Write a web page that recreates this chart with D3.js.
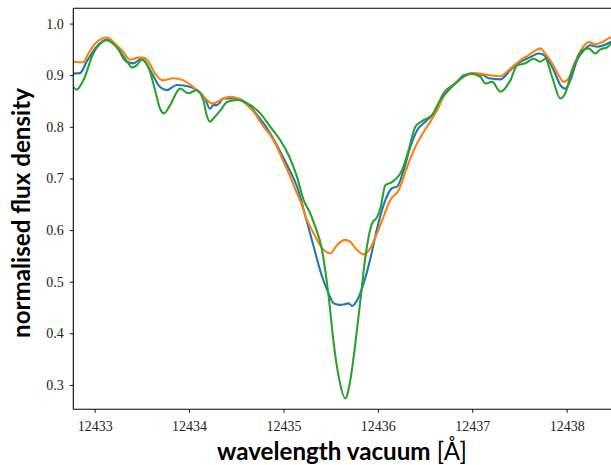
<!DOCTYPE html>
<html>
<head>
<meta charset="utf-8">
<script src="https://cdn.jsdelivr.net/npm/d3@7"></script>
<style>
  html, body { margin: 0; padding: 0; background: #fff; }
  svg { display: block; }
</style>
</head>
<body>
<svg id="chart" width="611" height="465"></svg>
<script>
// ---- data (wavelength in Å, normalised flux) ----
const xTicks = [12433, 12434, 12435, 12436, 12437, 12438];
const yTicks = [0.3, 0.4, 0.5, 0.6, 0.7, 0.8, 0.9, 1.0];
const xLabelBold = "wavelength vacuum";
const xLabelUnit = " [Å]";
const yLabel = "normalised flux density";

const blueSeries = [
  [12432.774,0.903],[12432.845,0.904],[12432.915,0.926],[12433.021,0.955],[12433.127,0.969],
  [12433.233,0.955],[12433.339,0.926],[12433.410,0.923],[12433.498,0.932],[12433.587,0.910],
  [12433.693,0.877],[12433.763,0.871],[12433.869,0.881],[12433.975,0.879],[12434.081,0.871],
  [12434.169,0.855],[12434.222,0.835],[12434.257,0.842],[12434.297,0.842],[12434.367,0.855],
  [12434.508,0.855],[12434.614,0.845],[12434.720,0.823],[12434.826,0.797],[12434.932,0.764],
  [12435.038,0.726],[12435.144,0.684],[12435.250,0.615],[12435.320,0.568],[12435.409,0.510],
  [12435.479,0.477],[12435.532,0.458],[12435.603,0.455],[12435.691,0.458],[12435.727,0.453],
  [12435.780,0.464],[12435.850,0.497],[12435.921,0.545],[12435.992,0.603],[12436.079,0.658],
  [12436.150,0.681],[12436.203,0.684],[12436.273,0.716],[12436.344,0.761],[12436.415,0.793],
  [12436.503,0.810],[12436.591,0.826],[12436.697,0.865],[12436.839,0.887],[12436.909,0.900],
  [12437.015,0.903],[12437.121,0.900],[12437.174,0.894],[12437.298,0.892],[12437.404,0.910],
  [12437.510,0.926],[12437.616,0.935],[12437.703,0.942],[12437.739,0.941],[12437.792,0.932],
  [12437.862,0.910],[12437.933,0.881],[12437.986,0.874],[12438.039,0.890],[12438.110,0.929],
  [12438.180,0.948],[12438.251,0.958],[12438.322,0.955],[12438.393,0.958],[12438.463,0.964],
  [12438.500,0.966]
];

const orangeSeries = [
  [12432.774,0.926],[12432.880,0.925],[12432.933,0.942],[12433.004,0.961],[12433.127,0.973],
  [12433.233,0.958],[12433.304,0.945],[12433.375,0.930],[12433.463,0.934],[12433.516,0.934],
  [12433.569,0.926],[12433.640,0.903],[12433.728,0.890],[12433.834,0.894],[12433.940,0.890],
  [12434.046,0.877],[12434.120,0.865],[12434.191,0.852],[12434.244,0.845],[12434.297,0.848],
  [12434.332,0.852],[12434.438,0.858],[12434.543,0.853],[12434.614,0.842],[12434.684,0.829],
  [12434.790,0.800],[12434.861,0.784],[12434.932,0.761],[12435.002,0.732],[12435.073,0.703],
  [12435.144,0.671],[12435.182,0.655],[12435.250,0.619],[12435.320,0.594],[12435.409,0.565],
  [12435.497,0.555],[12435.568,0.571],[12435.656,0.581],[12435.709,0.577],[12435.780,0.561],
  [12435.850,0.553],[12435.921,0.565],[12435.992,0.594],[12436.061,0.626],[12436.132,0.658],
  [12436.220,0.677],[12436.309,0.722],[12436.397,0.761],[12436.485,0.790],[12436.556,0.810],
  [12436.627,0.832],[12436.715,0.865],[12436.803,0.881],[12436.909,0.897],[12437.015,0.904],
  [12437.121,0.902],[12437.192,0.900],[12437.298,0.898],[12437.404,0.913],[12437.510,0.929],
  [12437.597,0.939],[12437.668,0.948],[12437.721,0.952],[12437.774,0.942],[12437.845,0.923],
  [12437.915,0.900],[12437.968,0.887],[12438.021,0.894],[12438.092,0.926],[12438.163,0.952],
  [12438.233,0.964],[12438.304,0.960],[12438.375,0.964],[12438.463,0.973],[12438.500,0.974]
];

const greenSeries = [
  [12432.774,0.877],[12432.809,0.872],[12432.880,0.890],[12432.986,0.942],[12433.057,0.961],
  [12433.127,0.968],[12433.198,0.961],[12433.286,0.942],[12433.357,0.923],[12433.392,0.915],
  [12433.445,0.919],[12433.498,0.930],[12433.569,0.916],[12433.640,0.871],[12433.693,0.835],
  [12433.735,0.826],[12433.799,0.842],[12433.905,0.874],[12433.993,0.865],[12434.081,0.871],
  [12434.151,0.852],[12434.186,0.823],[12434.222,0.810],[12434.257,0.816],[12434.332,0.832],
  [12434.403,0.848],[12434.508,0.852],[12434.649,0.842],[12434.755,0.826],[12434.861,0.800],
  [12434.967,0.774],[12435.055,0.745],[12435.144,0.703],[12435.214,0.658],[12435.285,0.632],
  [12435.320,0.615],[12435.409,0.561],[12435.479,0.471],[12435.532,0.381],[12435.585,0.316],
  [12435.656,0.274],[12435.709,0.310],[12435.762,0.381],[12435.815,0.464],[12435.868,0.548],
  [12435.939,0.613],[12435.992,0.625],[12436.027,0.642],[12436.079,0.687],[12436.150,0.693],
  [12436.256,0.716],[12436.326,0.755],[12436.397,0.800],[12436.468,0.811],[12436.574,0.823],
  [12436.662,0.852],[12436.750,0.871],[12436.856,0.890],[12436.980,0.903],[12437.086,0.897],
  [12437.139,0.884],[12437.210,0.887],[12437.298,0.868],[12437.404,0.890],[12437.475,0.919],
  [12437.563,0.923],[12437.650,0.932],[12437.721,0.926],[12437.774,0.932],[12437.845,0.897],
  [12437.933,0.855],[12437.986,0.865],[12438.057,0.910],[12438.110,0.932],[12438.163,0.948],
  [12438.233,0.952],[12438.304,0.942],[12438.357,0.950],[12438.428,0.954],[12438.474,0.961],
  [12438.500,0.963]
];

const seriesList = [
  { name: "blue", data: blueSeries, color: "#1f77b4" },
  { name: "orange", data: orangeSeries, color: "#ff7f0e" },
  { name: "green", data: greenSeries, color: "#2ca02c" }
];

// ---- layout ----
const plot = { left: 73.3, right: 611.5, top: 8.3, bottom: 409.3 };
const xDomain = [12432.774, 12438.475];
const yDomain = [0.2528, 1.0296];

const svg = d3.select("#chart");
const x = d3.scaleLinear().domain(xDomain).range([plot.left, plot.right]);
const y = d3.scaleLinear().domain(yDomain).range([plot.bottom, plot.top]);

svg.append("defs").append("clipPath").attr("id", "clip")
  .append("rect")
  .attr("x", plot.left).attr("y", plot.top)
  .attr("width", plot.right - plot.left).attr("height", plot.bottom - plot.top);

const line = d3.line().x(d => x(d[0])).y(d => y(d[1])).curve(d3.curveMonotoneX);

const g = svg.append("g").attr("clip-path", "url(#clip)");
seriesList.forEach(s => {
  g.append("path")
    .datum(s.data)
    .attr("fill", "none")
    .attr("stroke", s.color)
    .attr("stroke-width", 2.1)
    .attr("stroke-linejoin", "round")
    .attr("stroke-linecap", "round")
    .attr("d", line);
});

// axes
const tickFont = "'Liberation Serif', 'DejaVu Serif', serif";
const xAxis = d3.axisBottom(x).tickValues(xTicks).tickFormat(d3.format("d"))
  .tickSizeInner(3.5).tickSizeOuter(0).tickPadding(6);
const yAxis = d3.axisLeft(y).tickValues(yTicks).tickFormat(d3.format(".1f"))
  .tickSizeInner(3.5).tickSizeOuter(0).tickPadding(6);

const gx = svg.append("g").attr("transform", `translate(0,${plot.bottom})`).call(xAxis);
const gy = svg.append("g").attr("transform", `translate(${plot.left},0)`).call(yAxis);

[gx, gy].forEach(ax => {
  ax.select(".domain").remove();
  ax.selectAll(".tick line").attr("stroke", "#000").attr("stroke-width", 0.9);
  ax.selectAll(".tick text").attr("font-family", tickFont).attr("font-size", 14)
    .attr("fill", "#222");
});
gx.selectAll(".tick text").attr("dy", null).attr("y", 22.2);

// spines (left, top, bottom; right edge is at the figure edge)
const spine = svg.append("g").attr("stroke", "#000").attr("stroke-width", 1.1).attr("fill", "none");
spine.append("line").attr("x1", plot.left).attr("x2", plot.left).attr("y1", plot.top).attr("y2", plot.bottom);
spine.append("line").attr("x1", plot.left).attr("x2", 620).attr("y1", plot.top).attr("y2", plot.top);
spine.append("line").attr("x1", plot.left).attr("x2", 620).attr("y1", plot.bottom).attr("y2", plot.bottom);

// axis labels
const labelFont = "Lato, 'Open Sans', 'DejaVu Sans', sans-serif";
const xl = svg.append("text")
  .attr("x", 342).attr("y", 460)
  .attr("text-anchor", "middle")
  .attr("font-family", labelFont)
  .attr("font-size", 21)
  .attr("fill", "#000");
xl.append("tspan").attr("font-weight", "bold").text(xLabelBold);
xl.append("tspan").attr("font-weight", "normal").text(xLabelUnit);
(function fit(el, target) {
  const w = el.node().getComputedTextLength();
  el.attr("font-size", 21 * target / w);
})(xl, 250);

const yl = svg.append("text")
  .attr("transform", "translate(30,213) rotate(-90)")
  .attr("text-anchor", "middle")
  .attr("font-family", labelFont)
  .attr("font-weight", "bold")
  .attr("font-size", 21)
  .attr("fill", "#000")
  .text(yLabel);
(function fit(el, target) {
  const w = el.node().getComputedTextLength();
  el.attr("font-size", 21 * target / w);
})(yl, 250);
</script>
</body>
</html>
